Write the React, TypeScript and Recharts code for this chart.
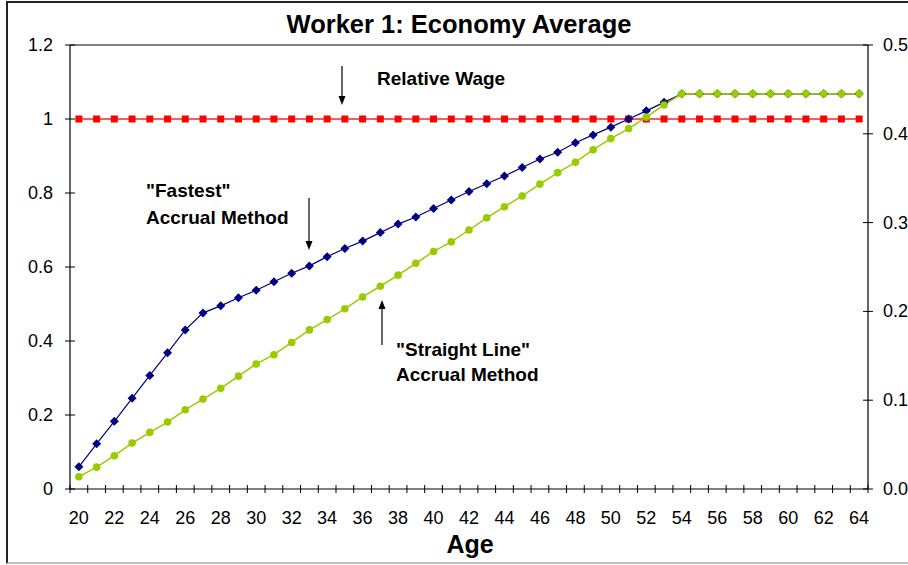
import React from "react";
import { LineChart, Line, XAxis, YAxis, ReferenceLine } from "recharts";

const ages = [
  20, 21, 22, 23, 24, 25, 26, 27, 28, 29, 30, 31, 32, 33, 34, 35, 36, 37, 38, 39, 40, 41,
  42, 43, 44, 45, 46, 47, 48, 49, 50, 51, 52, 53, 54, 55, 56, 57, 58, 59, 60, 61, 62, 63, 64,
];

const relativeWage = [
  1, 1, 1, 1, 1, 1, 1, 1, 1, 1, 1, 1, 1, 1, 1, 1, 1, 1, 1, 1, 1, 1, 1,
  1, 1, 1, 1, 1, 1, 1, 1, 1, 1, 1, 1, 1, 1, 1, 1, 1, 1, 1, 1, 1, 1,
];

const fastestAccrual = [
  0.06, 0.122, 0.183, 0.245, 0.307, 0.368, 0.43, 0.476, 0.495, 0.517, 0.537, 0.56, 0.583,
  0.603, 0.628, 0.65, 0.67, 0.693, 0.716, 0.735, 0.758, 0.781, 0.804, 0.825, 0.846, 0.869,
  0.892, 0.91, 0.936, 0.957, 0.978, 1.0, 1.022, 1.045, 1.068, 1.068, 1.068, 1.068, 1.068,
  1.068, 1.068, 1.068, 1.068, 1.068, 1.068,
];

const straightLineAccrual = [
  0.033, 0.059, 0.09, 0.124, 0.153, 0.181, 0.214, 0.243, 0.272, 0.305, 0.338, 0.363, 0.396,
  0.43, 0.458, 0.487, 0.519, 0.548, 0.578, 0.61, 0.642, 0.668, 0.7, 0.733, 0.763, 0.792,
  0.824, 0.855, 0.883, 0.917, 0.947, 0.974, 1.005, 1.038, 1.068, 1.068, 1.068, 1.068, 1.068,
  1.068, 1.068, 1.068, 1.068, 1.068, 1.068,
];

const ageLabels = [20, 22, 24, 26, 28, 30, 32, 34, 36, 38, 40, 42, 44, 46, 48, 50, 52, 54, 56, 58, 60, 62, 64];
const leftTicks = [0, 0.2, 0.4, 0.6, 0.8, 1, 1.2];
const rightTicks = [0, 0.1, 0.2, 0.3, 0.4, 0.5];

const data = ages.map((age, i) => ({
  age,
  wage: relativeWage[i],
  fastest: fastestAccrual[i],
  straight: straightLineAccrual[i],
}));

// tick marks sit between categories, labels on every other age
const boundaries = [...ages.map((a) => a - 0.5), ages[ages.length - 1] + 0.5];
const xTicks = [...boundaries, ...ageLabels].sort((a, b) => a - b);

const FONT = "'Liberation Sans', Arial, sans-serif";

const XTick = (props: any) => {
  const { x, y, payload } = props;
  const v = payload.value;
  if (v % 1 !== 0) {
    return <line x1={x} x2={x} y1={y - 4} y2={y + 4} stroke="#000" strokeWidth={1} />;
  }
  return (
    <text x={x} y={y + 35} textAnchor="middle" fontFamily={FONT} fontSize={18} fill="#000">
      {v}
    </text>
  );
};

const LeftTick = (props: any) => {
  const { x, y, payload } = props;
  return (
    <g>
      <line x1={x - 5} x2={x + 5} y1={y} y2={y} stroke="#000" strokeWidth={1} />
      <text x={x - 17} y={y + 6} textAnchor="end" fontFamily={FONT} fontSize={18} fill="#000">
        {String(payload.value)}
      </text>
    </g>
  );
};

const RightTick = (props: any) => {
  const { x, y, payload } = props;
  return (
    <g>
      <line x1={x - 5} x2={x + 5} y1={y} y2={y} stroke="#000" strokeWidth={1} />
      <text x={x + 15} y={y + 6} textAnchor="start" fontFamily={FONT} fontSize={18} fill="#000">
        {Number(payload.value).toFixed(1)}
      </text>
    </g>
  );
};

const SquareDot = (p: any) => (
  <rect key={`s${p.index}`} x={p.cx - 3.5} y={p.cy - 3.5} width={7} height={7} fill="#ff0000" />
);

const DiamondDot = (p: any) => (
  <polygon
    key={`d${p.index}`}
    points={`${p.cx},${p.cy - 4.5} ${p.cx + 4.5},${p.cy} ${p.cx},${p.cy + 4.5} ${p.cx - 4.5},${p.cy}`}
    fill="#000080"
  />
);

const CircleDot = (p: any) => <circle key={`c${p.index}`} cx={p.cx} cy={p.cy} r={3.8} fill="#99cc00" />;

const Arrow = ({ x, y1, y2 }: { x: number; y1: number; y2: number }) => {
  // arrow from y1 to y2, head at y2
  const dir = y2 > y1 ? 1 : -1;
  return (
    <g>
      <line x1={x} x2={x} y1={y1} y2={y2 - dir * 8} stroke="#000" strokeWidth={1.2} />
      <polygon points={`${x - 3.5},${y2 - dir * 9} ${x + 3.5},${y2 - dir * 9} ${x},${y2}`} fill="#000" />
    </g>
  );
};

const labelStyle = { fontFamily: FONT, fontSize: 19, fontWeight: 700, fill: "#000" };

export default function App() {
  return (
    <div style={{ position: "absolute", left: 0, top: 0, width: 908, height: 565, overflow: "hidden", background: "#fff" }}>
      <div
        style={{
          position: "absolute",
          left: 6,
          top: 1,
          width: 930,
          height: 559,
          borderLeft: "2px solid #222",
          borderTop: "2px solid #222",
          borderBottom: "2px solid #c0c0c0",
        }}
      />
      <div style={{ position: "absolute", left: 0, top: 0 }}>
        <LineChart width={940} height={565} data={data} margin={{ top: 45, right: 0, bottom: 0, left: 0 }}>
          <XAxis
            dataKey="age"
            type="number"
            domain={[19.5, 64.5]}
            ticks={xTicks}
            interval={0}
            tickLine={false}
            tickSize={0}
            tickMargin={0}
            tick={(p: any) => <XTick {...p} />}
            height={76}
            axisLine={{ stroke: "#000", strokeWidth: 1.2 }}
            allowDataOverflow
          />
          <YAxis
            yAxisId="left"
            domain={[0, 1.2]}
            ticks={leftTicks}
            interval={0}
            width={70}
            tickLine={false}
            tickSize={0}
            tickMargin={0}
            tick={(p: any) => <LeftTick {...p} />}
            axisLine={{ stroke: "#000", strokeWidth: 1.2 }}
            allowDataOverflow
          />
          <YAxis
            yAxisId="right"
            orientation="right"
            type="number"
            domain={[0, 0.5]}
            ticks={rightTicks}
            interval={0}
            width={72}
            tickLine={false}
            tickSize={0}
            tickMargin={0}
            tick={(p: any) => <RightTick {...p} />}
            axisLine={{ stroke: "#000", strokeWidth: 1.2 }}
            allowDataOverflow
          />
          <ReferenceLine yAxisId="left" y={1.2} stroke="#000" strokeWidth={1.2} />
          <Line
            yAxisId="left"
            dataKey="wage"
            type="linear"
            stroke="#ff5a5a"
            strokeWidth={2}
            dot={SquareDot}
            activeDot={false}
            isAnimationActive={false}
          />
          <Line
            yAxisId="left"
            dataKey="fastest"
            type="linear"
            stroke="#000080"
            strokeWidth={1.2}
            dot={DiamondDot}
            activeDot={false}
            isAnimationActive={false}
          />
          <Line
            yAxisId="left"
            dataKey="straight"
            type="linear"
            stroke="#99cc00"
            strokeWidth={1.5}
            dot={CircleDot}
            activeDot={false}
            isAnimationActive={false}
          />
        </LineChart>
      </div>
      <svg width={908} height={565} style={{ position: "absolute", left: 0, top: 0, pointerEvents: "none" }}>
        <text x={459} y={33} textAnchor="middle" style={{ ...labelStyle, fontSize: 25.5 }}>
          Worker 1: Economy Average
        </text>
        <text x={470} y={553} textAnchor="middle" style={{ ...labelStyle, fontSize: 25 }}>
          Age
        </text>
        <text x={377} y={85} style={labelStyle}>Relative Wage</text>
        <Arrow x={342} y1={66} y2={105} />
        <text x={146} y={197} style={labelStyle}>"Fastest"</text>
        <text x={146} y={224} style={labelStyle}>Accrual Method</text>
        <Arrow x={309} y1={198} y2={250} />
        <text x={396} y={356} style={labelStyle}>"Straight Line"</text>
        <text x={396} y={381} style={labelStyle}>Accrual Method</text>
        <Arrow x={382} y1={345} y2={300} />
      </svg>
    </div>
  );
}
